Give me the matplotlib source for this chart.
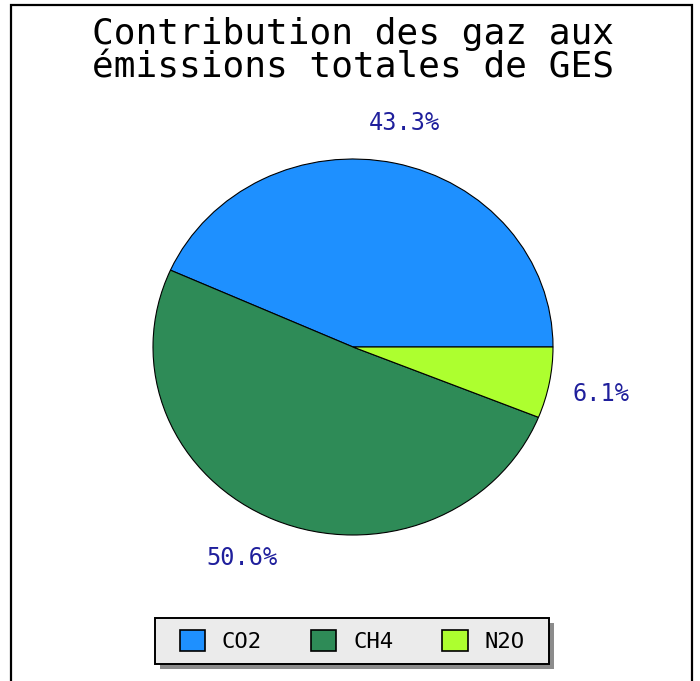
import matplotlib
matplotlib.use('Agg')
import matplotlib.pyplot as plt
from matplotlib.patches import Rectangle

# data
gases = ['CO2', 'CH4', 'N2O']
shares = [43.3, 50.6, 6.1]
colors = ['#1e90ff', '#2e8b57', '#adff2f']
title = 'Contribution des gaz aux\némissions totales de GES'

W, H = 700, 681
fig = plt.figure(figsize=(W / 100, H / 100), dpi=100)
fig.patch.set_facecolor('white')

# outer frame (open at the bottom, like the reference crop)
frame = Rectangle((11 / W, -0.01), (692 - 11) / W, (H - 5) / H + 0.01,
                  transform=fig.transFigure, fill=False, edgecolor='black',
                  linewidth=1.6, zorder=0)
fig.patches.append(frame)

fig.text(353 / W, 1 - 51 / H, title, ha='center', va='center',
         family='DejaVu Sans Mono', fontsize=26, linespacing=1.0)

# pie axes: slightly flattened ellipse, centre (353, 347), rx 200, ry 188
cx, cy, rx, ry = 353, 347, 200, 188
ax = fig.add_axes([(cx - rx) / W, 1 - (cy + ry) / H, 2 * rx / W, 2 * ry / H])
wedges, _, pcts = ax.pie(shares, colors=colors, startangle=0, counterclock=True,
                         autopct='%.1f%%', pctdistance=1.22,
                         wedgeprops=dict(edgecolor='black', linewidth=0.8),
                         textprops=dict(color='#1f1f9c', family='DejaVu Sans Mono',
                                        fontsize=17))
ax.set_aspect('auto')
ax.set_xlim(-1, 1)
ax.set_ylim(-1, 1)
for t in pcts:
    t.set_clip_on(False)
x, y = pcts[1].get_position()
pcts[1].set_position((x - 0.08, y))
x, y = pcts[2].get_position()
pcts[2].set_position((x + 0.04, y - 0.02))

leg = fig.legend(wedges, gases, loc='center', ncol=3,
                 bbox_to_anchor=(352 / W, 40 / H),
                 prop=dict(family='DejaVu Sans Mono', size=16),
                 frameon=False,
                 handlelength=1.15, handleheight=1.05, handletextpad=0.75,
                 columnspacing=2.2, borderpad=0.55)
leg.set_zorder(5)
for h in leg.legend_handles:
    h.set_edgecolor('black')
    h.set_linewidth(1.2)

# legend box drawn by hand: wider side padding than matplotlib allows
fig.canvas.draw()
bb = leg.get_window_extent()
side = 12
bx, by, bw, bh = (bb.x0 - side) / W, bb.y0 / H, (bb.width + 2 * side) / W, bb.height / H
fig.patches.append(Rectangle((bx + 5 / W, by - 5 / H), bw, bh, transform=fig.transFigure,
                             facecolor='#8c8c8c', edgecolor='none', zorder=3))
fig.patches.append(Rectangle((bx, by), bw, bh, transform=fig.transFigure,
                             facecolor='#ebebeb', edgecolor='black', linewidth=1.4,
                             zorder=4))

fig.savefig('out.png', dpi=100)
